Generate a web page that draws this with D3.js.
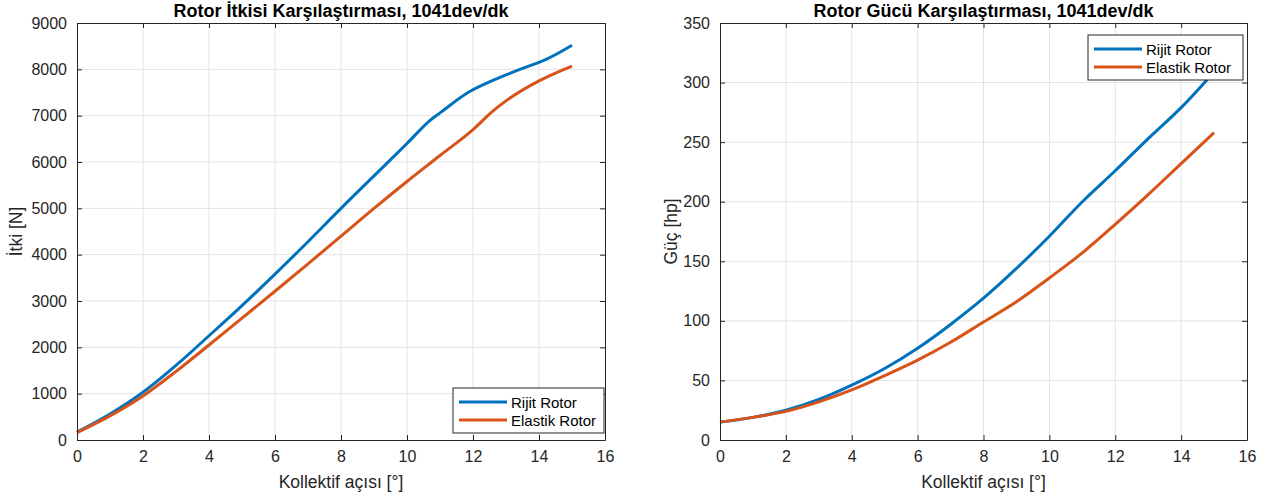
<!DOCTYPE html>
<html lang="tr">
<head>
<meta charset="utf-8">
<script src="https://cdn.jsdelivr.net/npm/d3@7"></script>
<style>
  body { margin: 0; background: #fff; }
  text { font-family: "Liberation Sans", Arial, sans-serif; }
</style>
</head>
<body>
<script>
// thrust (left)
const thrustX_rigid = [0, 1, 2, 3, 4, 5, 6, 7, 8, 9, 10, 10.7, 11, 11.9, 12.5, 13, 13.5, 14, 14.2, 15];
const thrust_rigid = [170, 560, 1030, 1610, 2250, 2900, 3580, 4280, 5000, 5700, 6400, 6900, 7060, 7520, 7730, 7880, 8020, 8150, 8210, 8520];
const thrustX_elastic = [0, 1, 2, 3, 4, 5, 6, 7, 8, 9, 10, 11, 12, 12.6, 13, 14, 15];
const thrust_elastic = [160, 520, 950, 1480, 2050, 2630, 3210, 3800, 4400, 5000, 5580, 6140, 6700, 7100, 7320, 7750, 8070];

// power (right)
const powerX = [0, 1, 2, 3, 4, 5, 6, 7, 8, 9, 10, 11, 12, 13, 14, 15];
const power_rigid = [15, 19, 25, 34, 46, 60, 77, 97, 119, 144, 171, 200, 226, 253, 279, 309];
const power_elastic = [15, 19, 24, 32, 42, 54, 67, 82, 99, 116, 136, 157, 181, 206, 232, 258];

const xTicks = [0, 2, 4, 6, 8, 10, 12, 14, 16];
const thrustTicks = [0, 1000, 2000, 3000, 4000, 5000, 6000, 7000, 8000, 9000];
const powerTicks = [0, 50, 100, 150, 200, 250, 300, 350];
const seriesNames = ["Rijit Rotor", "Elastik Rotor"];
const colors = ["#0072BD", "#D95319"];

const svg = d3.select("body").append("svg")
    .attr("width", 1273)
    .attr("height", 497);

function drawPanel(opt) {
    const x = d3.scaleLinear().domain([0, 16]).range([opt.left, opt.right]);
    const y = d3.scaleLinear().domain(opt.ydomain).range([opt.bottom, opt.top]);
    const g = svg.append("g");
    const axisColor = "#262626";

    // grid
    g.append("g").selectAll("line")
        .data(xTicks.slice(1, -1))
        .join("line")
        .attr("x1", d => x(d)).attr("x2", d => x(d))
        .attr("y1", opt.top).attr("y2", opt.bottom)
        .attr("stroke", "#e3e3e3").attr("stroke-width", 1);
    g.append("g").selectAll("line")
        .data(opt.yticks.slice(1, -1))
        .join("line")
        .attr("y1", d => y(d)).attr("y2", d => y(d))
        .attr("x1", opt.left).attr("x2", opt.right)
        .attr("stroke", "#e3e3e3").attr("stroke-width", 1);

    // lines
    const line = d3.line().curve(d3.curveMonotoneX).x(d => x(d[0])).y(d => y(d[1]));
    opt.series.forEach((s, i) => {
        g.append("path")
            .datum(s.x.map((v, k) => [v, s.y[k]]))
            .attr("fill", "none")
            .attr("stroke", colors[i])
            .attr("stroke-width", 3)
            .attr("stroke-linejoin", "round")
            .attr("d", line);
    });

    // axes (box with inward ticks on all sides)
    const tl = 5;
    const bottomAxis = d3.axisBottom(x).tickValues(xTicks).tickSizeInner(-tl).tickSizeOuter(0).tickPadding(11);
    const topAxis = d3.axisTop(x).tickValues(xTicks).tickSizeInner(-tl).tickSizeOuter(0).tickFormat("");
    const leftAxis = d3.axisLeft(y).tickValues(opt.yticks).tickSizeInner(-tl).tickSizeOuter(0).tickPadding(10).tickFormat(d3.format("d"));
    const rightAxis = d3.axisRight(y).tickValues(opt.yticks).tickSizeInner(-tl).tickSizeOuter(0).tickFormat("");

    [[bottomAxis, `translate(0,${opt.bottom})`], [topAxis, `translate(0,${opt.top})`],
     [leftAxis, `translate(${opt.left},0)`], [rightAxis, `translate(${opt.right},0)`]].forEach(a => {
        const ax = g.append("g").attr("transform", a[1]).call(a[0]);
        ax.select(".domain").attr("stroke", axisColor).attr("stroke-width", 1);
        ax.selectAll(".tick line").attr("stroke", axisColor);
        ax.selectAll(".tick text").attr("fill", axisColor).attr("font-size", "16px")
            .attr("font-family", "'Liberation Sans', Arial, sans-serif");
    });

    // title
    g.append("text")
        .attr("x", (opt.left + opt.right) / 2)
        .attr("y", 17)
        .attr("text-anchor", "middle")
        .attr("font-size", "18px")
        .attr("font-weight", "bold")
        .attr("fill", "#000")
        .text(opt.title);

    // x label
    g.append("text")
        .attr("x", (opt.left + opt.right) / 2)
        .attr("y", 488)
        .attr("text-anchor", "middle")
        .attr("font-size", "17.5px")
        .attr("fill", axisColor)
        .text("Kollektif açısı [°]");

    // y label
    g.append("text")
        .attr("transform", `translate(${opt.ylabelX},${(opt.top + opt.bottom) / 2}) rotate(-90)`)
        .attr("text-anchor", "middle")
        .attr("font-size", "17.5px")
        .attr("fill", axisColor)
        .text(opt.ylabel);

    // legend
    const lg = g.append("g").attr("transform", `translate(${opt.legend[0]},${opt.legend[1]})`);
    lg.append("rect")
        .attr("x", 0).attr("y", 0)
        .attr("width", opt.legendW).attr("height", 45)
        .attr("fill", "#fff")
        .attr("stroke", axisColor)
        .attr("stroke-width", 1);
    seriesNames.forEach((name, i) => {
        const yy = 14 + i * 18;
        lg.append("line")
            .attr("x1", 6).attr("x2", 54)
            .attr("y1", yy).attr("y2", yy)
            .attr("stroke", colors[i]).attr("stroke-width", 3);
        lg.append("text")
            .attr("x", 58).attr("y", yy)
            .attr("dominant-baseline", "central")
            .attr("font-size", "15px")
            .attr("fill", "#000")
            .text(name);
    });
}

drawPanel({
    left: 77, right: 605, top: 23, bottom: 440,
    ydomain: [0, 9000], yticks: thrustTicks,
    title: "Rotor İtkisi Karşılaştırması, 1041dev/dk",
    ylabel: "İtki [N]", ylabelX: 22,
    legend: [453, 388], legendW: 151,
    series: [{x: thrustX_rigid, y: thrust_rigid}, {x: thrustX_elastic, y: thrust_elastic}]
});

drawPanel({
    left: 720, right: 1247, top: 23, bottom: 440,
    ydomain: [0, 350], yticks: powerTicks,
    title: "Rotor Gücü Karşılaştırması, 1041dev/dk",
    ylabel: "Güç [hp]", ylabelX: 677,
    legend: [1088, 35], legendW: 155,
    series: [{x: powerX, y: power_rigid}, {x: powerX, y: power_elastic}]
});
</script>
</body>
</html>
